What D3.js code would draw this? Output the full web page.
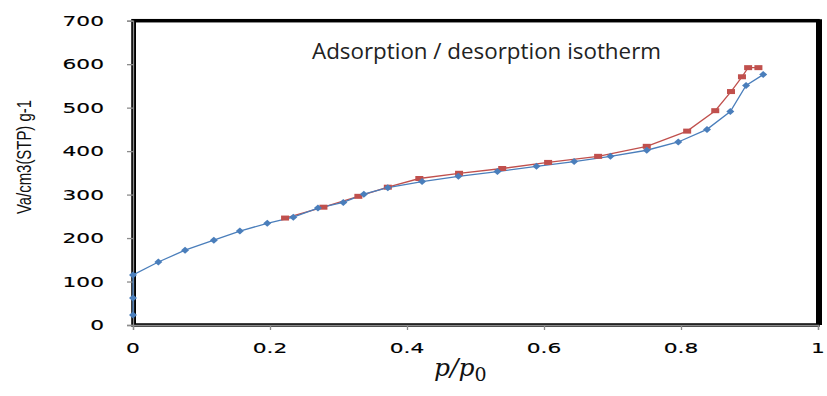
<!DOCTYPE html>
<html>
<head>
<meta charset="utf-8">
<script src="https://cdn.jsdelivr.net/npm/d3@7"></script>
<style>
  body { margin: 0; background: #fff; }
</style>
</head>
<body>
<svg id="chart" width="827" height="396"></svg>
<script>
// adsorption branch (blue)
var adsP = [0, 0, 0, 0.037, 0.076, 0.118, 0.156, 0.196, 0.234, 0.270, 0.307, 0.337, 0.372, 0.422, 0.475, 0.532, 0.589, 0.644, 0.697, 0.750, 0.796, 0.838, 0.872, 0.895, 0.920];
var adsV = [23, 62, 115, 145, 172, 195, 216, 234, 248, 269, 282, 301, 316, 330, 342, 353, 365, 376, 388, 402, 421, 450, 491, 551, 576];
// desorption branch (red)
var desP = [0.913, 0.898, 0.889, 0.873, 0.850, 0.809, 0.750, 0.679, 0.606, 0.539, 0.476, 0.418, 0.372, 0.329, 0.278, 0.222];
var desV = [592, 592, 571, 537, 493, 446, 411, 388, 374, 360, 349, 337, 317, 296, 271, 246];
var xTicks = [0, 0.2, 0.4, 0.6, 0.8, 1];
var yTicks = [0, 100, 200, 300, 400, 500, 600, 700];

var svg = d3.select("#chart");
var x = d3.scaleLinear().domain([0, 1]).range([133, 818]);
var y = d3.scaleLinear().domain([0, 700]).range([325, 20.7]);

// plot frame
svg.append("rect")
    .attr("x", x(0)).attr("y", y(700))
    .attr("width", x(1) - x(0)).attr("height", y(0) - y(700))
    .attr("fill", "none").attr("stroke", "#000").attr("stroke-width", 3.5);
svg.append("line")
    .attr("x1", x(1) + 1).attr("x2", x(1) + 1)
    .attr("y1", y(700) - 1.5).attr("y2", y(0))
    .attr("stroke", "#000").attr("stroke-width", 6);
svg.append("line")
    .attr("x1", x(0) + 1.5).attr("x2", x(0) + 1.5)
    .attr("y1", y(700)).attr("y2", y(0))
    .attr("stroke", "#000").attr("stroke-width", 3);

// axes (grey lines + ticks)
var gx = svg.append("g").attr("transform", `translate(0,${y(0)})`)
    .call(d3.axisBottom(x).tickValues(xTicks).tickSize(5).tickFormat(d3.format("")));
var gy = svg.append("g").attr("transform", `translate(${x(0)},0)`)
    .call(d3.axisLeft(y).tickValues(yTicks).tickSize(6));
[gx, gy].forEach(g => {
    g.select(".domain").attr("stroke", "#8c8c8c").attr("stroke-width", 1.3);
    g.selectAll(".tick line").attr("stroke", "#8c8c8c").attr("stroke-width", 1.3);
    g.selectAll(".tick text").remove();
});

// tick labels, wide font like the reference
var lab = svg.append("g").attr("font-family", "DejaVu Sans").attr("font-size", 14.5)
    .attr("fill", "#000").attr("stroke", "#000").attr("stroke-width", 0.15);
xTicks.forEach(t => {
    lab.append("text")
        .attr("transform", `translate(${x(t)},352.5) scale(1.5,1)`)
        .attr("text-anchor", "middle")
        .text(d3.format("")(t));
});
yTicks.forEach(t => {
    lab.append("text")
        .attr("transform", `translate(104,${y(t) + 5.3}) scale(1.5,1)`)
        .attr("text-anchor", "end")
        .text(t);
});

// lines
var line = d3.line().x(d => x(d[0])).y(d => y(d[1]));
var ads = d3.zip(adsP, adsV);
var des = d3.zip(desP, desV);

svg.append("path").datum(des).attr("d", line)
    .attr("fill", "none").attr("stroke", "#c0504d").attr("stroke-width", 1.3);
svg.append("path").datum(ads).attr("d", line)
    .attr("fill", "none").attr("stroke", "#4a7ebb").attr("stroke-width", 1.3);

// markers
svg.append("g").selectAll("rect").data(des).join("rect")
    .attr("x", d => x(d[0]) - 4).attr("y", d => y(d[1]) - 2.5)
    .attr("width", 8).attr("height", 5)
    .attr("fill", "#c0504d");
svg.append("g").selectAll("path").data(ads).join("path")
    .attr("transform", d => `translate(${x(d[0])},${y(d[1])})`)
    .attr("d", "M0,-3.5L4,0L0,3.5L-4,0Z")
    .attr("fill", "#4a7ebb");

// chart title inside plot
svg.append("text")
    .attr("x", 312).attr("y", 59)
    .attr("font-family", "Open Sans").attr("font-size", 21)
    .attr("fill", "#222")
    .attr("textLength", 349).attr("lengthAdjust", "spacingAndGlyphs")
    .text("Adsorption / desorption isotherm");

// x axis title
var xt = svg.append("text")
    .attr("x", 434).attr("y", 376)
    .attr("font-family", "DejaVu Serif").attr("font-size", 25)
    .attr("fill", "#111");
xt.append("tspan").attr("font-style", "italic").text("p/p");
xt.append("tspan").attr("dy", 5).attr("font-size", 19).text("0");

// y axis title
svg.append("text")
    .attr("transform", "translate(31,157) rotate(-90)")
    .attr("text-anchor", "middle")
    .attr("font-family", "Liberation Sans").attr("font-size", 21)
    .attr("fill", "#111")
    .attr("textLength", 114).attr("lengthAdjust", "spacingAndGlyphs")
    .text("Va/cm3(STP) g-1");
</script>
</body>
</html>
